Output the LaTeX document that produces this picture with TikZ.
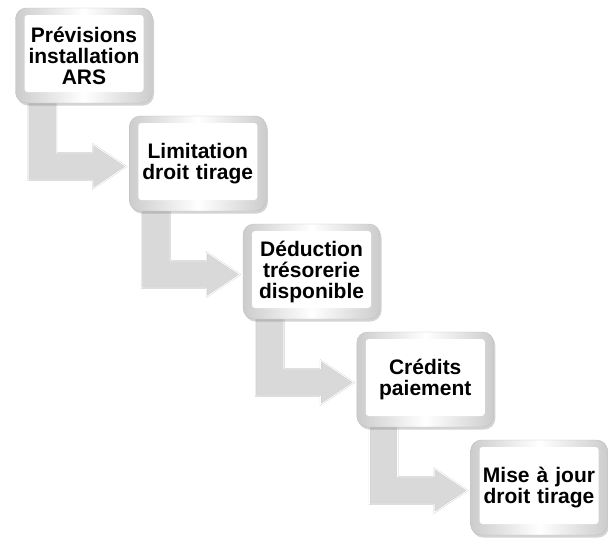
\documentclass[tikz,border=0pt]{standalone}
\usepackage{fontspec}
\setmainfont{Liberation Sans}
\usetikzlibrary{calc, shadows}
\pgfdeclarelayer{background}
\pgfsetlayers{background,main}

\tikzset{
  stepbox/.style={draw=gray!50, rounded corners=11pt, minimum width=137pt, minimum height=95pt,
    text width=130pt, align=center, font=\bfseries\fontsize{21}{21}\selectfont,
    left color=gray!40, right color=gray!40, middle color=white,
    drop shadow={shadow xshift=1.5pt, shadow yshift=-2.5pt, opacity=0.35},
    path picture={\fill[white, rounded corners=3pt]
      ([shift={(9pt,11pt)}]path picture bounding box.south west) rectangle
      ([shift={(-9pt,-7pt)}]path picture bounding box.north east);}},
  blockarrow/.style={fill=gray!30, draw=gray!40, double=white, double distance=0.8pt, line join=miter}
}

\begin{document}
\begin{tikzpicture}[x=1pt, y=-1pt]
  \useasboundingbox (0,0) rectangle (608,538);
  % steps
  \node[stepbox] (s1) at (84,55.5) {Prévisions\\installation\\ARS};
  \node[stepbox] (s2) at (197.75,163.5) {Limitation\\droit tirage};
  \node[stepbox] (s3) at (311.5,271.5) {Déduction\\trésorerie\\disponible};
  \node[stepbox] (s4) at (425.25,379.5) {Crédits\\paiement};
  \node[stepbox] (s5) at (539,487.5) {Mise à jour\\droit tirage};
  % bent arrows behind the steps
  \begin{pgfonlayer}{background}
  \foreach \a/\b in {s1/s2, s2/s3, s3/s4, s4/s5}{
    \path[blockarrow] let \p1=(\a.west), \p2=(\b.west) in
      (\x1+13pt,\y1) -- (\x1+13pt,\y2-16.5pt) -- (\x2-36pt,\y2-16.5pt) -- (\x2-36pt,\y2-25pt)
      -- (\x2-3pt,\y2-3pt) -- (\x2-36pt,\y2+19pt) -- (\x2-36pt,\y2+10.5pt)
      -- (\x1+41pt,\y2+10.5pt) -- (\x1+41pt,\y1) -- cycle;
  }
  \end{pgfonlayer}
\end{tikzpicture}
\end{document}
